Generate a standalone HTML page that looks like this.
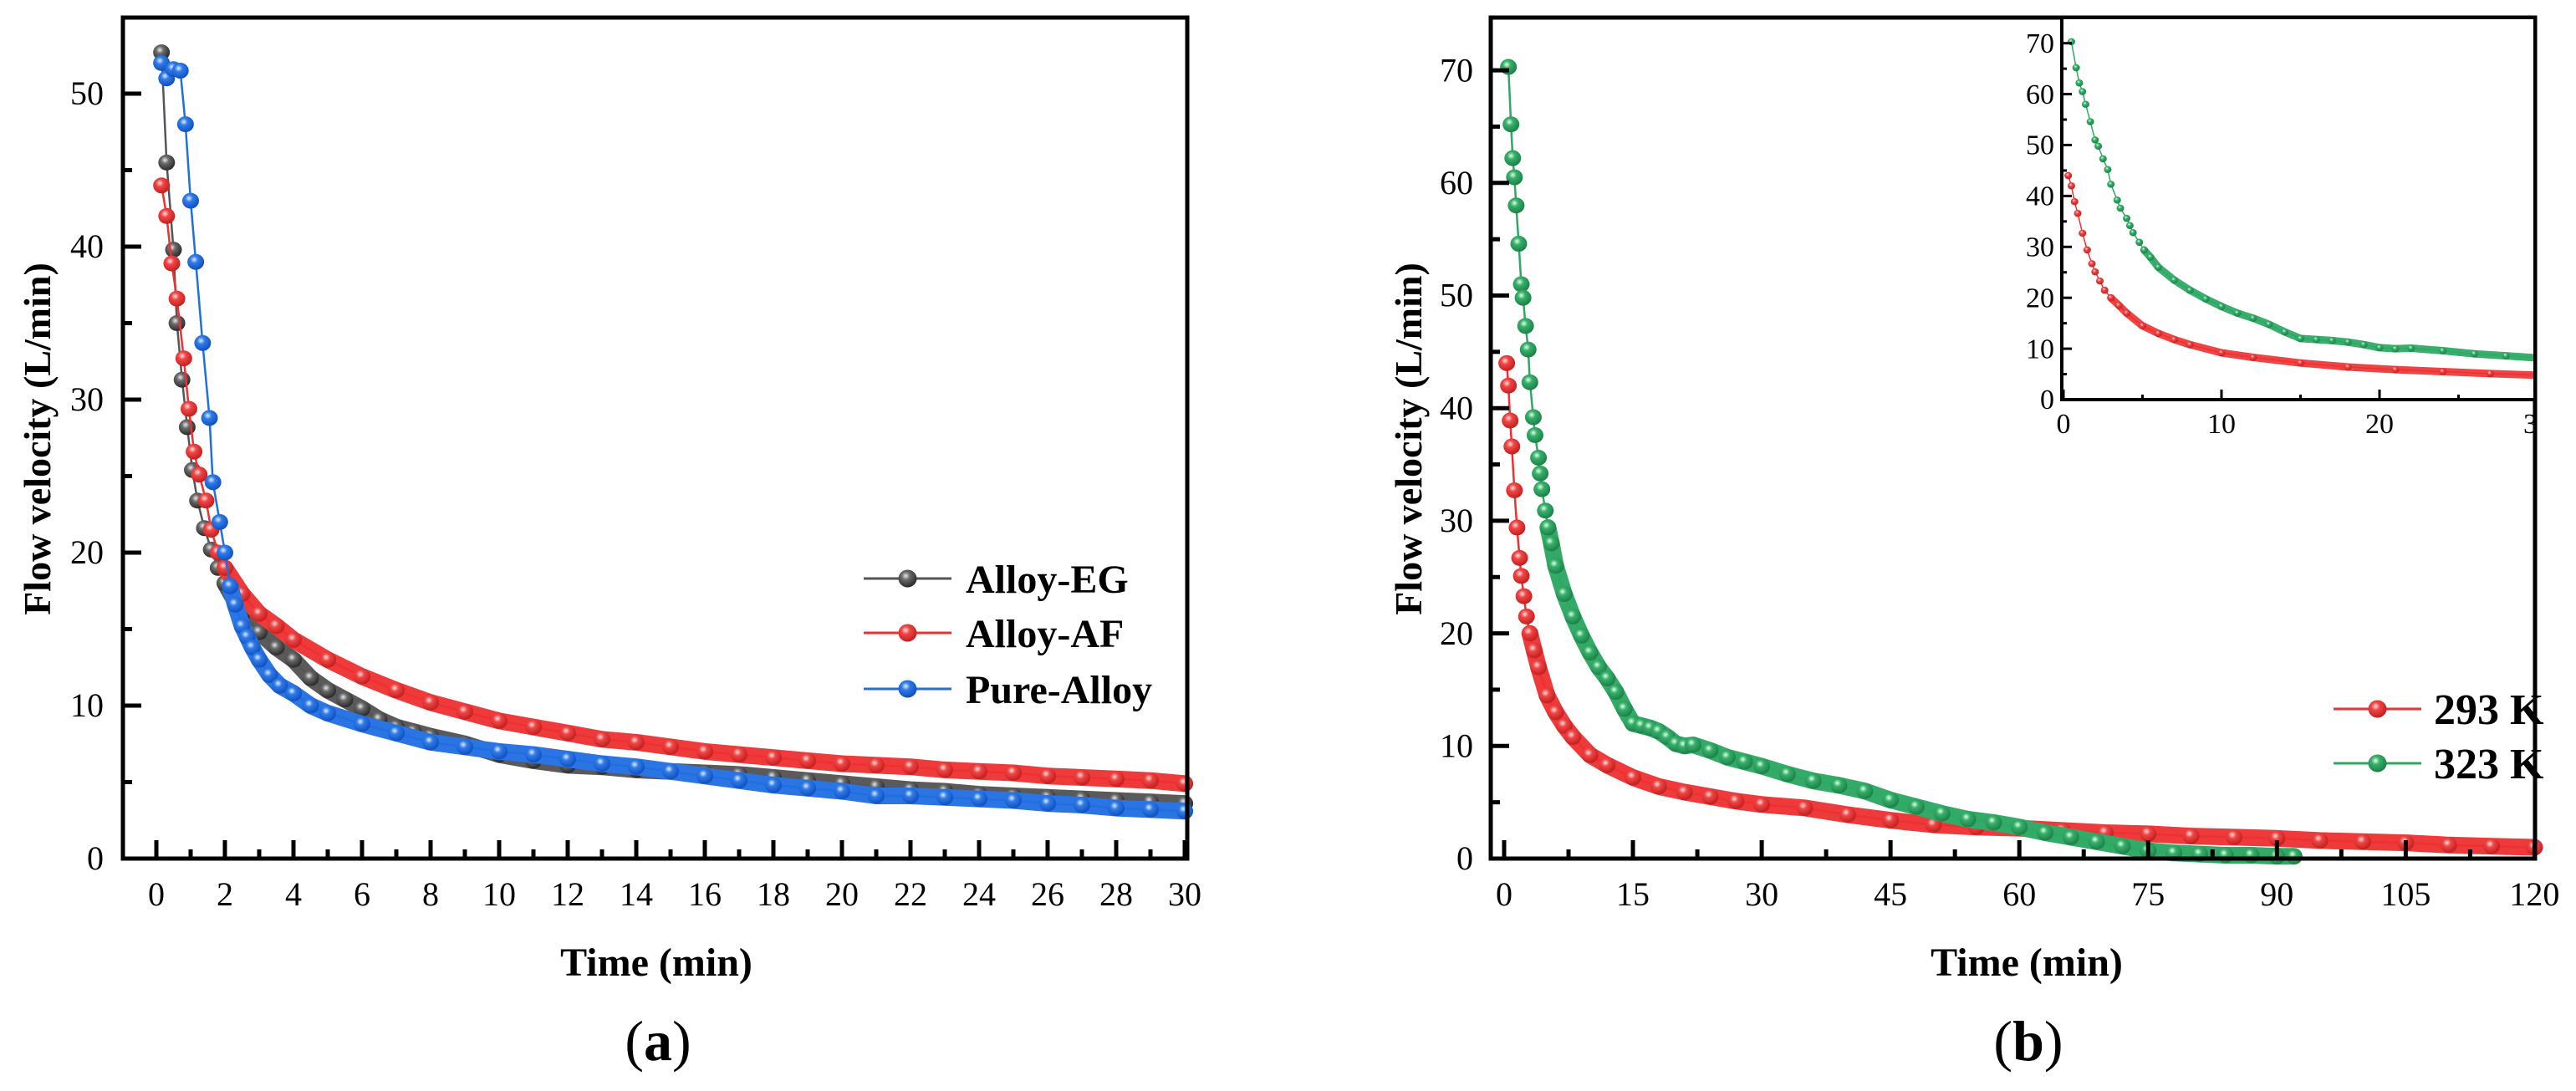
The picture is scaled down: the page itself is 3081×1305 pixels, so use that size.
<!DOCTYPE html>
<html><head><meta charset="utf-8"><style>
html,body{margin:0;padding:0;background:#fff;}
svg{display:block;font-family:"Liberation Serif","DejaVu Serif",serif;}
</style></head><body>
<svg id="fig" width="3081" height="1305" viewBox="0 0 3081 1305" xmlns="http://www.w3.org/2000/svg">
<defs>
<radialGradient id="g-black" cx="0.4" cy="0.35" r="0.65"><stop offset="0" stop-color="#e8e8e8"/><stop offset="0.35" stop-color="#6a6a6a"/><stop offset="1" stop-color="#2a2a2a"/></radialGradient>
<radialGradient id="g-red" cx="0.4" cy="0.35" r="0.65"><stop offset="0" stop-color="#ffe0e0"/><stop offset="0.35" stop-color="#f04545"/><stop offset="1" stop-color="#c41e1e"/></radialGradient>
<radialGradient id="g-blue" cx="0.4" cy="0.35" r="0.65"><stop offset="0" stop-color="#e0ecff"/><stop offset="0.35" stop-color="#2f7be8"/><stop offset="1" stop-color="#1050c0"/></radialGradient>
<radialGradient id="g-green" cx="0.4" cy="0.35" r="0.65"><stop offset="0" stop-color="#e0ffe8"/><stop offset="0.35" stop-color="#36b06a"/><stop offset="1" stop-color="#1c8048"/></radialGradient>
</defs>
</svg>
<script>
// ---- Panel (a) data ----
const egTime = [0.15,0.3,0.5,0.6,0.75,0.9,1.05,1.2,1.4,1.6,1.8,2,2.5,3,3.5,4,4.5,5,5.5,6,6.5,7,7.5,8,9,10,11,12,13,14,15,16,17,18,19,20,21,22,23,24,25,26,27,28,29,30];
const egFlow = [52.7,45.5,39.8,35,31.3,28.2,25.4,23.4,21.6,20.2,19,18,16,14.8,13.8,13,11.8,11,10.4,9.8,9.1,8.6,8.3,8,7.5,6.8,6.4,6.1,6,5.8,5.7,5.6,5.5,5.3,5.1,4.9,4.7,4.5,4.4,4.2,4.1,4,3.9,3.8,3.7,3.6];
const afTime = [0.15,0.3,0.45,0.6,0.8,0.95,1.1,1.25,1.45,1.6,1.8,2,2.5,3,3.5,4,5,6,7,8,9,10,11,12,13,14,15,16,17,18,19,20,21,22,23,24,25,26,27,28,29,30];
const afFlow = [44,42,38.9,36.6,32.7,29.4,26.6,25.1,23.4,21.5,20,19,17.3,16,15.2,14.3,13,11.9,11,10.2,9.6,9,8.6,8.2,7.8,7.6,7.3,7,6.8,6.6,6.4,6.2,6.1,6,5.8,5.7,5.6,5.4,5.3,5.2,5.1,4.9];
const paTime = [0.15,0.3,0.5,0.7,0.85,1.0,1.15,1.35,1.55,1.65,1.85,2.0,2.15,2.3,2.5,2.65,2.8,3,3.3,3.6,4,4.5,5,6,7,8,9,10,11,12,13,14,15,16,17,18,19,20,21,22,23,24,25,26,27,28,29,30];
const paFlow = [52,51,51.6,51.5,48,43,39,33.7,28.8,24.6,22,20,17.8,16.6,15.2,14.5,13.8,13,12,11.3,10.8,10,9.5,8.8,8.2,7.6,7.3,7,6.8,6.5,6.2,6,5.7,5.4,5.1,4.8,4.6,4.4,4.1,4.1,4,3.9,3.8,3.6,3.5,3.3,3.2,3.1];
const aXTicks = [0,2,4,6,8,10,12,14,16,18,20,22,24,26,28,30];
const aYTicks = [0,10,20,30,40,50];
// ---- Panel (b) data ----
const k293Time = [0.3,0.5,0.7,0.9,1.2,1.5,1.8,2.0,2.3,2.6,3,3.5,4,5,6,7,8,10,12,15,18,21,24,27,30,35,40,45,50,55,60,65,70,75,80,85,90,95,100,105,110,115,120];
const k293Flow = [44,42,38.9,36.6,32.7,29.4,26.7,25.1,23.3,21.5,20,18.5,17,14.5,13,11.8,10.8,9.2,8.3,7.2,6.4,5.9,5.5,5.1,4.8,4.5,3.9,3.4,3,2.8,2.7,2.5,2.3,2.2,2,1.9,1.8,1.6,1.5,1.4,1.2,1.1,1.0];
const k323Time = [0.5,0.8,1,1.2,1.4,1.7,2,2.2,2.5,2.8,3,3.4,3.6,4,4.2,4.4,4.8,5.1,5.5,6,7,8,9,10,11,12,13,14,15,16,17,18,19,20,21,22,24,26,28,30,33,36,39,42,45,48,51,54,57,60,63,66,69,72,75,78,81,84,87,90,92];
const k323Flow = [70.3,65.2,62.2,60.5,58,54.6,51,49.8,47.3,45.2,42.3,39.2,37.6,35.6,34.2,32.8,30.9,29.4,28,26,23.5,21.5,19.8,18.3,17,16,14.8,13.3,12,11.8,11.6,11.3,10.8,10.2,10,10.1,9.6,9,8.6,8.2,7.5,6.9,6.5,6,5.2,4.6,4,3.5,3.2,2.8,2.3,1.9,1.5,1.1,0.7,0.5,0.4,0.3,0.3,0.2,0.2];
const bXTicks = [0,15,30,45,60,75,90,105,120];
const bYTicks = [0,10,20,30,40,50,60,70];
const insetXTicks = [0,10,20,30];
const insetYTicks = [0,10,20,30,40,50,60,70];

const NS = "http://www.w3.org/2000/svg";
const svg = document.getElementById('fig');
function mk(tag, attrs, parent){const e=document.createElementNS(NS,tag);for(const k in attrs)e.setAttribute(k,attrs[k]);(parent||svg).appendChild(e);return e;}

function panel(cfg){
  const g = mk('g',{});
  
  
  const X = v => cfg.x0 + (v)*cfg.sx;
  const Y = v => cfg.y0 - (v)*cfg.sy;
  if(cfg.bg){ const bgr=mk('rect',{x:cfg.L,y:cfg.T,width:cfg.R-cfg.L,height:cfg.B-cfg.T,fill:'#fff'},g);
    
     }
  cfg.series.forEach(s=>{
    const sg = mk('g',{},g);
    
    
    const pts = s.t.map((t,i)=>X(t).toFixed(1)+','+Y(s.v[i]).toFixed(1));
    if(s.bandFrom!==undefined){
      const bp = s.t.map((t,i)=>[t,s.v[i]]).filter(p=>p[0]>=s.bandFrom).map(p=>X(p[0]).toFixed(1)+','+Y(p[1]).toFixed(1));
      const band = mk('polyline',{points:bp.join(' '),fill:'none',stroke:s.band,'stroke-width':cfg.r*2,'stroke-linecap':'round','stroke-linejoin':'round'},sg);
      
      
    }
    const line = mk('polyline',{points:pts.join(' '),fill:'none',stroke:s.line,'stroke-width':cfg.lw},sg);
    
    
    s.t.forEach((t,i)=>{
      const c = mk('ellipse',{cx:X(t),cy:Y(s.v[i]),rx:cfg.r,ry:cfg.r*0.95,fill:'url(#'+s.grad+')'},sg);
      
      
    });
  });
  const fr = mk('rect',{x:cfg.L,y:cfg.T,width:cfg.R-cfg.L,height:cfg.B-cfg.T,fill:'none',stroke:'#000','stroke-width':cfg.fw},g);
  
  
  const xg = mk('g',{},g);
  
  
  cfg.xTicks.forEach((v,i)=>{
    const x=X(v);
    if(x<=cfg.R+1) mk('line',{x1:x,x2:x,y1:cfg.B,y2:cfg.B-cfg.tl,stroke:'#000','stroke-width':cfg.tw},xg);
    if(i<cfg.xTicks.length-1){const xm=X((v+cfg.xTicks[i+1])/2); mk('line',{x1:xm,x2:xm,y1:cfg.B,y2:cfg.B-cfg.tl/2,stroke:'#000','stroke-width':cfg.tw},xg);}
    const tx = mk('text',{x:x,y:cfg.xLabY,'font-size':cfg.fs,'text-anchor':'middle'},xg);
    tx.textContent=v;
    
    
  });
  const yg = mk('g',{},g);
  
  
  cfg.yTicks.forEach((v,i)=>{
    const y=Y(v);
    mk('line',{x1:cfg.L,x2:cfg.L+cfg.tl,y1:y,y2:y,stroke:'#000','stroke-width':cfg.tw},yg);
    const ym=Y(v+(cfg.yTicks[1]-cfg.yTicks[0])/2);
    if(ym>cfg.T+5) mk('line',{x1:cfg.L,x2:cfg.L+cfg.tl/2,y1:ym,y2:ym,stroke:'#000','stroke-width':cfg.tw},yg);
    const ty = mk('text',{x:cfg.yLabX,y:y+cfg.fs*0.33,'font-size':cfg.fs,'text-anchor':'end'},yg);
    ty.textContent=v;
    
    
  });
}

panel({name:'chart-a',L:147,R:1420,T:21,B:1027,x0:187,sx:41,y0:1027,sy:18.3,fw:5,tw:5,tl:22,fs:40,r:10,lw:2.5,
  xLabY:1083,yLabX:124,xTicks:aXTicks,yTicks:aYTicks,
  series:[
    {name:'series-alloy-eg',t:egTime,v:egFlow,line:'#555',band:'#5a5a5a',grad:'g-black',bandFrom:2},
    {name:'series-alloy-af',t:afTime,v:afFlow,line:'#ee3030',band:'#ee3a3a',grad:'g-red',bandFrom:2},
    {name:'series-pure-alloy',t:paTime,v:paFlow,line:'#1f6fe0',band:'#2a74e4',grad:'g-blue',bandFrom:2.1}
  ]});
panel({name:'chart-b',L:1783,R:3032,T:21,B:1027,x0:1799,sx:10.27,y0:1027,sy:13.47,fw:5,tw:5,tl:22,fs:40,r:10,lw:2.5,
  xLabY:1083,yLabX:1762,xTicks:bXTicks,yTicks:bYTicks,
  series:[
    {name:'series-293k',t:k293Time,v:k293Flow,line:'#ee3030',band:'#ee3a3a',grad:'g-red',bandFrom:3},
    {name:'series-323k',t:k323Time,v:k323Flow,line:'#2fa865',band:'#33aa68',grad:'g-green',bandFrom:5}
  ]});
mk('clipPath',{id:'insetclip'}).appendChild(document.createElementNS(NS,'rect'));
const cr=document.querySelector('#insetclip rect');cr.setAttribute('x',2400);cr.setAttribute('y',0);cr.setAttribute('width',633);cr.setAttribute('height',560);
const n293 = k293Time.filter(t=>t<=30).length;
const n323 = k323Time.filter(t=>t<=30).length;
panel({name:'inset-chart',bg:true,L:2466,R:3032,T:21,B:478,x0:2468,sx:18.9,y0:478,sy:6.09,fw:4,tw:3,tl:12,fs:34,r:4.5,lw:1.5,
  xLabY:518,yLabX:2457,xTicks:insetXTicks,yTicks:insetYTicks,
  series:[
    {name:'inset-series-293k',t:k293Time.slice(0,n293),v:k293Flow.slice(0,n293),line:'#ee3030',band:'#ee4444',grad:'g-red',bandFrom:3},
    {name:'inset-series-323k',t:k323Time.slice(0,n323),v:k323Flow.slice(0,n323),line:'#2fa865',band:'#3aae6c',grad:'g-green',bandFrom:5}
  ]});
svg.lastChild.setAttribute('clip-path','url(#insetclip)');

function txt(x,y,s,fs,weight,name,rot,anchor){
  const t=mk('text',{x:x,y:y,'font-size':fs,'font-weight':weight,'text-anchor':anchor||'middle'});
  if(rot) t.setAttribute('transform','rotate(-90 '+x+' '+y+')');
  t.textContent=s;
  
  
  return t;
}
txt(60,525,'Flow velocity (L/min)',46,'bold','y-axis-title-a',true);
txt(1700,525,'Flow velocity (L/min)',46,'bold','y-axis-title-b',true);
txt(785,1167,'Time (min)',48,'bold','x-axis-title-a');
txt(2424,1167,'Time (min)',48,'bold','x-axis-title-b');
function plabel(x,letter,name){
  const t=txt(x,1268,'',68,'normal',name);
  t.innerHTML='(<tspan font-weight="bold">'+letter+'</tspan>)';
}
plabel(787,'a','panel-label-a');
plabel(2426,'b','panel-label-b');
function legend(x1,x2,tx,y,label,color,grad,fs,name){
  const g=mk('g',{});
  
  
  mk('line',{x1:x1,x2:x2,y1:y,y2:y,stroke:color,'stroke-width':3},g);
  mk('ellipse',{cx:(x1+x2)/2,cy:y,rx:11,ry:10.5,fill:'url(#'+grad+')'},g);
  const t=mk('text',{x:tx,y:y+fs*0.35,'font-size':fs,'font-weight':'bold'},g);
  t.textContent=label;
}
legend(1033,1138,1155,692,'Alloy-EG','#555','g-black',48,'legend-entry-alloy-eg');
legend(1033,1138,1155,757,'Alloy-AF','#ee3030','g-red',48,'legend-entry-alloy-af');
legend(1033,1138,1155,824,'Pure-Alloy','#1f6fe0','g-blue',48,'legend-entry-pure-alloy');
legend(2791,2896,2911,848,'293 K','#ee3030','g-red',52,'legend-entry-293k');
legend(2791,2896,2911,913,'323 K','#2fa865','g-green',52,'legend-entry-323k');
</script>
</body></html>
